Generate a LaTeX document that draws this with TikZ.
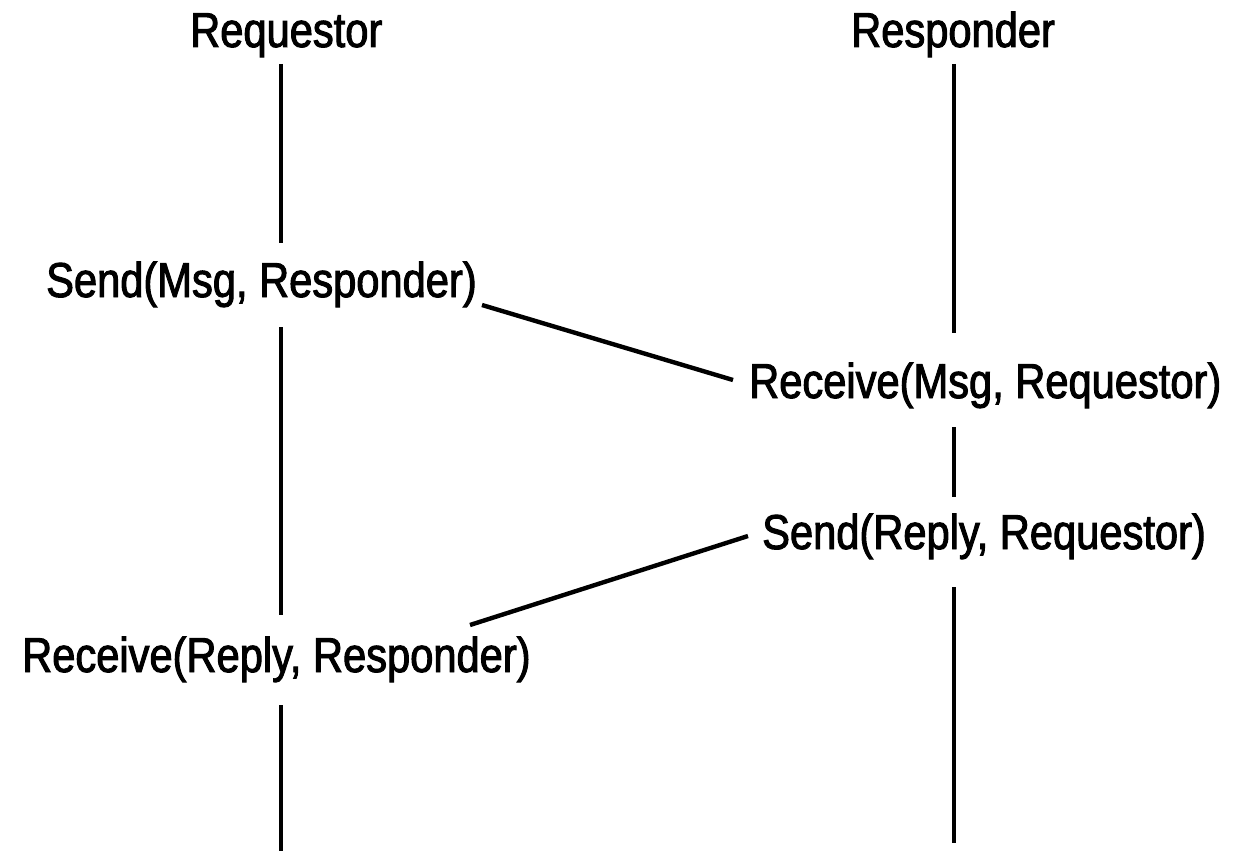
\documentclass[tikz,border=0pt]{standalone}
\usepackage{fontspec}
\setmainfont{Liberation Sans}[FakeStretch=0.85,FakeBold=2]
\begin{document}
\begin{tikzpicture}[x=1pt,y=-1pt,
  lbl/.style={anchor=base west,inner sep=0pt,font=\fontsize{49}{55}\selectfont},
  life/.style={line width=3.6pt},
  msg/.style={line width=4.4pt}]
\useasboundingbox[fill=white] (0,0) rectangle (1258,859);
% headers
\node[lbl] (req) at (190,47) {Requestor};
\node[lbl] (resp) at (851,47) {Responder};
% labels
\node[lbl] (s1) at (46,297) {Send(Msg, Responder)};
\node[lbl] (r1) at (749,398) {Receive(Msg, Requestor)};
\node[lbl] (s2) at (762,549) {Send(Reply, Requestor)};
\node[lbl] (r2) at (22,672) {Receive(Reply, Responder)};
% lifeline points
\coordinate (L0) at (281,64);
\coordinate (L1) at (281,243);
\coordinate (L2) at (281,327);
\coordinate (L3) at (281,615);
\coordinate (L4) at (281,705);
\coordinate (L5) at (281,851);
\coordinate (R0) at (954,64);
\coordinate (R1) at (954,333);
\coordinate (R2) at (954,427);
\coordinate (R3) at (954,497);
\coordinate (R4) at (954,587);
\coordinate (R5) at (954,843);
\draw[life] (L0) -- (L1) (L2) -- (L3) (L4) -- (L5);
\draw[life] (R0) -- (R1) (R2) -- (R3) (R4) -- (R5);
% messages
\coordinate (m1a) at (482,305);
\coordinate (m1b) at (733,380);
\coordinate (m2a) at (748,536);
\coordinate (m2b) at (470,625);
\draw[msg] (m1a) -- (m1b);
\draw[msg] (m2a) -- (m2b);
\end{tikzpicture}
\end{document}
